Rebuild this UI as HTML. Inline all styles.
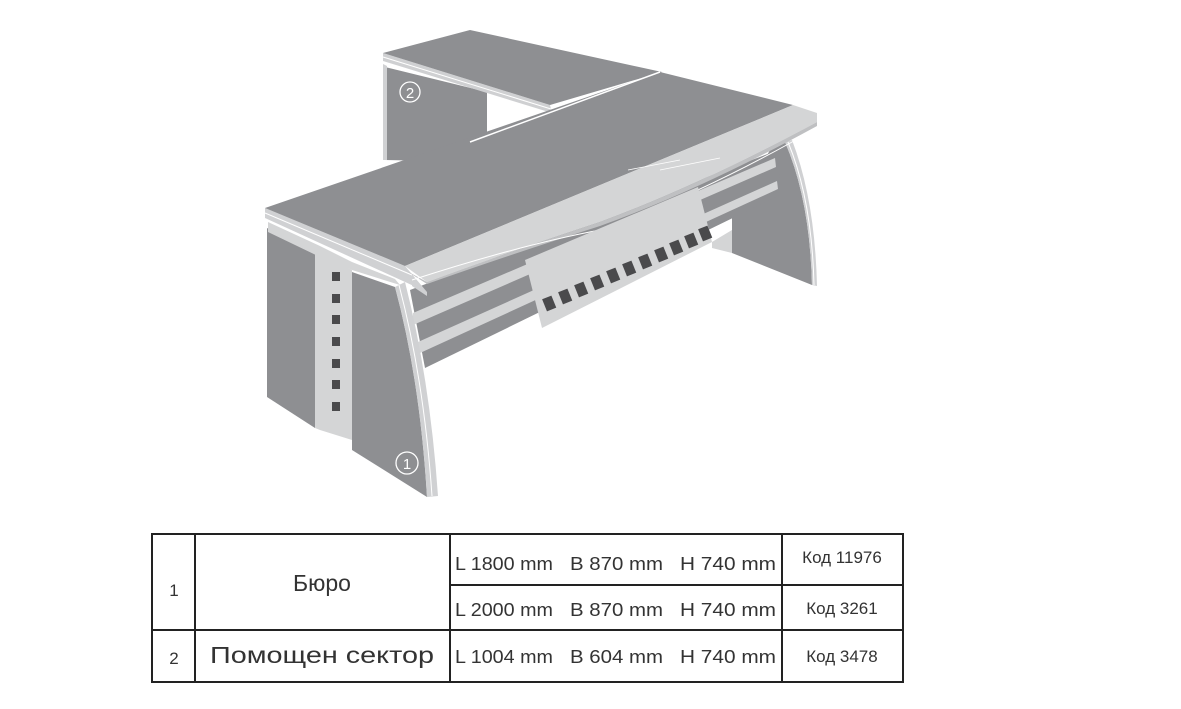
<!DOCTYPE html>
<html><head><meta charset="utf-8"><style>
html,body{margin:0;padding:0;background:#fff;}
svg{display:block;}
text{font-family:"Liberation Sans","DejaVu Sans",sans-serif;fill:#333;}
</style></head><body>
<svg width="1181" height="709" viewBox="0 0 1181 709" xmlns="http://www.w3.org/2000/svg">
<!-- back desk (2) -->
<polygon points="385,67 487,92 487,162 385,160" fill="#8e8f92"/>
<polygon points="383,64 387,66 387,160 383,160" fill="#d0d1d3"/>
<polygon points="383,53 550,105 552,113 383,61" fill="#cfd0d2"/>
<line x1="383" y1="57" x2="551" y2="109" stroke="#fff" stroke-width="1"/>
<polygon points="383,53 470,30 662,72 550,105" fill="#8e8f92"/>
<circle cx="410" cy="92" r="10" fill="none" stroke="#fff" stroke-width="1.3"/>
<text x="410" y="98" font-size="15" text-anchor="middle" style="fill:#fff">2</text>

<!-- right leg -->
<path d="M732,217 L770,150 L785,142 Q810,200 812,285 L732,253 Z" fill="#8e8f92"/>
<path d="M785,142 Q810,200 812,285 L817,286 Q815,200 792,140 Z" fill="#d0d1d3"/>
<path d="M788,142 Q812,200 814,285" fill="none" stroke="#fff" stroke-width="1"/>
<polygon points="712,242 732,230 732,253 712,248" fill="#d4d5d6"/>

<!-- modesty panel -->
<polygon points="410,290 778,150 780,195 425,368" fill="#8e8f92"/>
<polygon points="413,313 775,158 776,167 413,325" fill="#d4d5d6"/>
<polygon points="418,342 777,181 778,189 420,353" fill="#d4d5d6"/>

<!-- left leg -->
<polygon points="267,228 315,253 315,428 267,397" fill="#8e8f92"/>
<polygon points="315,250 320,253 320,430 315,428" fill="#d4d5d6"/>
<polygon points="320,255 352,270 352,440 320,430" fill="#d4d5d6"/>
<g fill="#4a4a4c">
<rect x="332" y="272" width="8" height="9"/><rect x="332" y="294" width="8" height="9"/>
<rect x="332" y="315" width="8" height="9"/><rect x="332" y="337" width="8" height="9"/>
<rect x="332" y="359" width="8" height="9"/><rect x="332" y="380" width="8" height="9"/>
<rect x="332" y="402" width="8" height="9"/>
</g>
<!-- front leg -->
<path d="M352,272 L395,287 Q420,380 427,497 L352,450 Z" fill="#8e8f92"/>
<path d="M395,287 Q420,380 427,497 L438,496 Q430,380 405,282 Z" fill="#d0d1d3"/>
<path d="M399,285 Q424,380 432,496" fill="none" stroke="#fff" stroke-width="1"/>
<circle cx="407" cy="463" r="11" fill="none" stroke="#fff" stroke-width="1.3"/>
<text x="407" y="469" font-size="15" text-anchor="middle" style="fill:#fff">1</text>

<!-- left top edge -->
<polygon points="265,208 405,266 427,292 265,218" fill="#d0d1d3"/>
<line x1="265" y1="213" x2="412" y2="275" stroke="#fff" stroke-width="1"/>
<polygon points="268,222 320,246 352,262 395,279 400,285 352,270 320,257 268,232" fill="#d4d5d6"/>

<!-- main top -->
<polygon points="265,208 660,72 793,105 405,266" fill="#8e8f92"/>
<line x1="470" y1="142" x2="660" y2="72" stroke="#fff" stroke-width="1.5"/>
<!-- glass strip -->
<path d="M405,266 L793,105 L817,113 L817,122 Q700,185 600,222 Q500,255 427,282 Z" fill="#d4d5d6"/>
<path d="M405,270 L427,284 Q500,258 600,226 Q700,190 817,126 L817,122 Q700,185 600,222 Q500,255 427,282 Z" fill="#bfc0c2"/>
<path d="M412,280 Q520,245 600,230 Q700,195 817,128" fill="none" stroke="#fff" stroke-width="1"/>
<line x1="628" y1="170" x2="680" y2="160" stroke="#fff" stroke-width="0.8"/>
<line x1="660" y1="170" x2="720" y2="158" stroke="#fff" stroke-width="0.8"/>
<polygon points="412,282 427,292 427,296 412,286" fill="#d0d1d3"/>

<!-- cable panel -->
<polygon points="525,260 698,187 712,242 542,328" fill="#d4d5d6"/>
<g fill="#4a4a4c">
<rect x="544" y="297" width="10" height="13" transform="rotate(-22 549 303)"/>
<rect x="560" y="290" width="10" height="13" transform="rotate(-22 565 296)"/>
<rect x="576" y="283" width="10" height="13" transform="rotate(-22 581 289)"/>
<rect x="592" y="276" width="10" height="13" transform="rotate(-22 597 282)"/>
<rect x="608" y="269" width="10" height="13" transform="rotate(-22 613 275)"/>
<rect x="624" y="262" width="10" height="13" transform="rotate(-22 629 268)"/>
<rect x="640" y="255" width="10" height="13" transform="rotate(-22 645 261)"/>
<rect x="656" y="248" width="10" height="13" transform="rotate(-22 661 254)"/>
<rect x="671" y="241" width="10" height="13" transform="rotate(-22 676 247)"/>
<rect x="686" y="234" width="10" height="13" transform="rotate(-22 691 240)"/>
<rect x="700" y="227" width="10" height="13" transform="rotate(-22 705 233)"/>
</g>

<!-- table -->
<g stroke="#222" stroke-width="2" fill="none">
<rect x="152" y="534" width="751" height="148"/>
<line x1="195" y1="534" x2="195" y2="682"/>
<line x1="450" y1="534" x2="450" y2="682"/>
<line x1="782" y1="534" x2="782" y2="682"/>
<line x1="450" y1="585" x2="903" y2="585"/>
<line x1="152" y1="630" x2="903" y2="630"/>
</g>
<text x="174" y="596" font-size="17" text-anchor="middle">1</text>
<text x="174" y="664" font-size="17" text-anchor="middle">2</text>
<text x="322" y="591" font-size="23" text-anchor="middle">Бюро</text>
<text x="210" y="663" font-size="23" textLength="224" lengthAdjust="spacingAndGlyphs">Помощен сектор</text>
<g font-size="18">
<text x="455" y="570" textLength="98" lengthAdjust="spacingAndGlyphs">L 1800 mm</text>
<text x="570" y="570" textLength="93" lengthAdjust="spacingAndGlyphs">B  870 mm</text>
<text x="680" y="570" textLength="96" lengthAdjust="spacingAndGlyphs">H  740 mm</text>
<text x="455" y="616" textLength="98" lengthAdjust="spacingAndGlyphs">L 2000 mm</text>
<text x="570" y="616" textLength="93" lengthAdjust="spacingAndGlyphs">B  870 mm</text>
<text x="680" y="616" textLength="96" lengthAdjust="spacingAndGlyphs">H  740 mm</text>
<text x="455" y="663" textLength="98" lengthAdjust="spacingAndGlyphs">L 1004 mm</text>
<text x="570" y="663" textLength="93" lengthAdjust="spacingAndGlyphs">B  604 mm</text>
<text x="680" y="663" textLength="96" lengthAdjust="spacingAndGlyphs">H  740 mm</text>
</g>
<text x="842" y="563" font-size="17" text-anchor="middle">Код 11976</text>
<text x="842" y="614" font-size="17" text-anchor="middle">Код 3261</text>
<text x="842" y="662" font-size="17" text-anchor="middle">Код 3478</text>
</svg>
</body></html>
